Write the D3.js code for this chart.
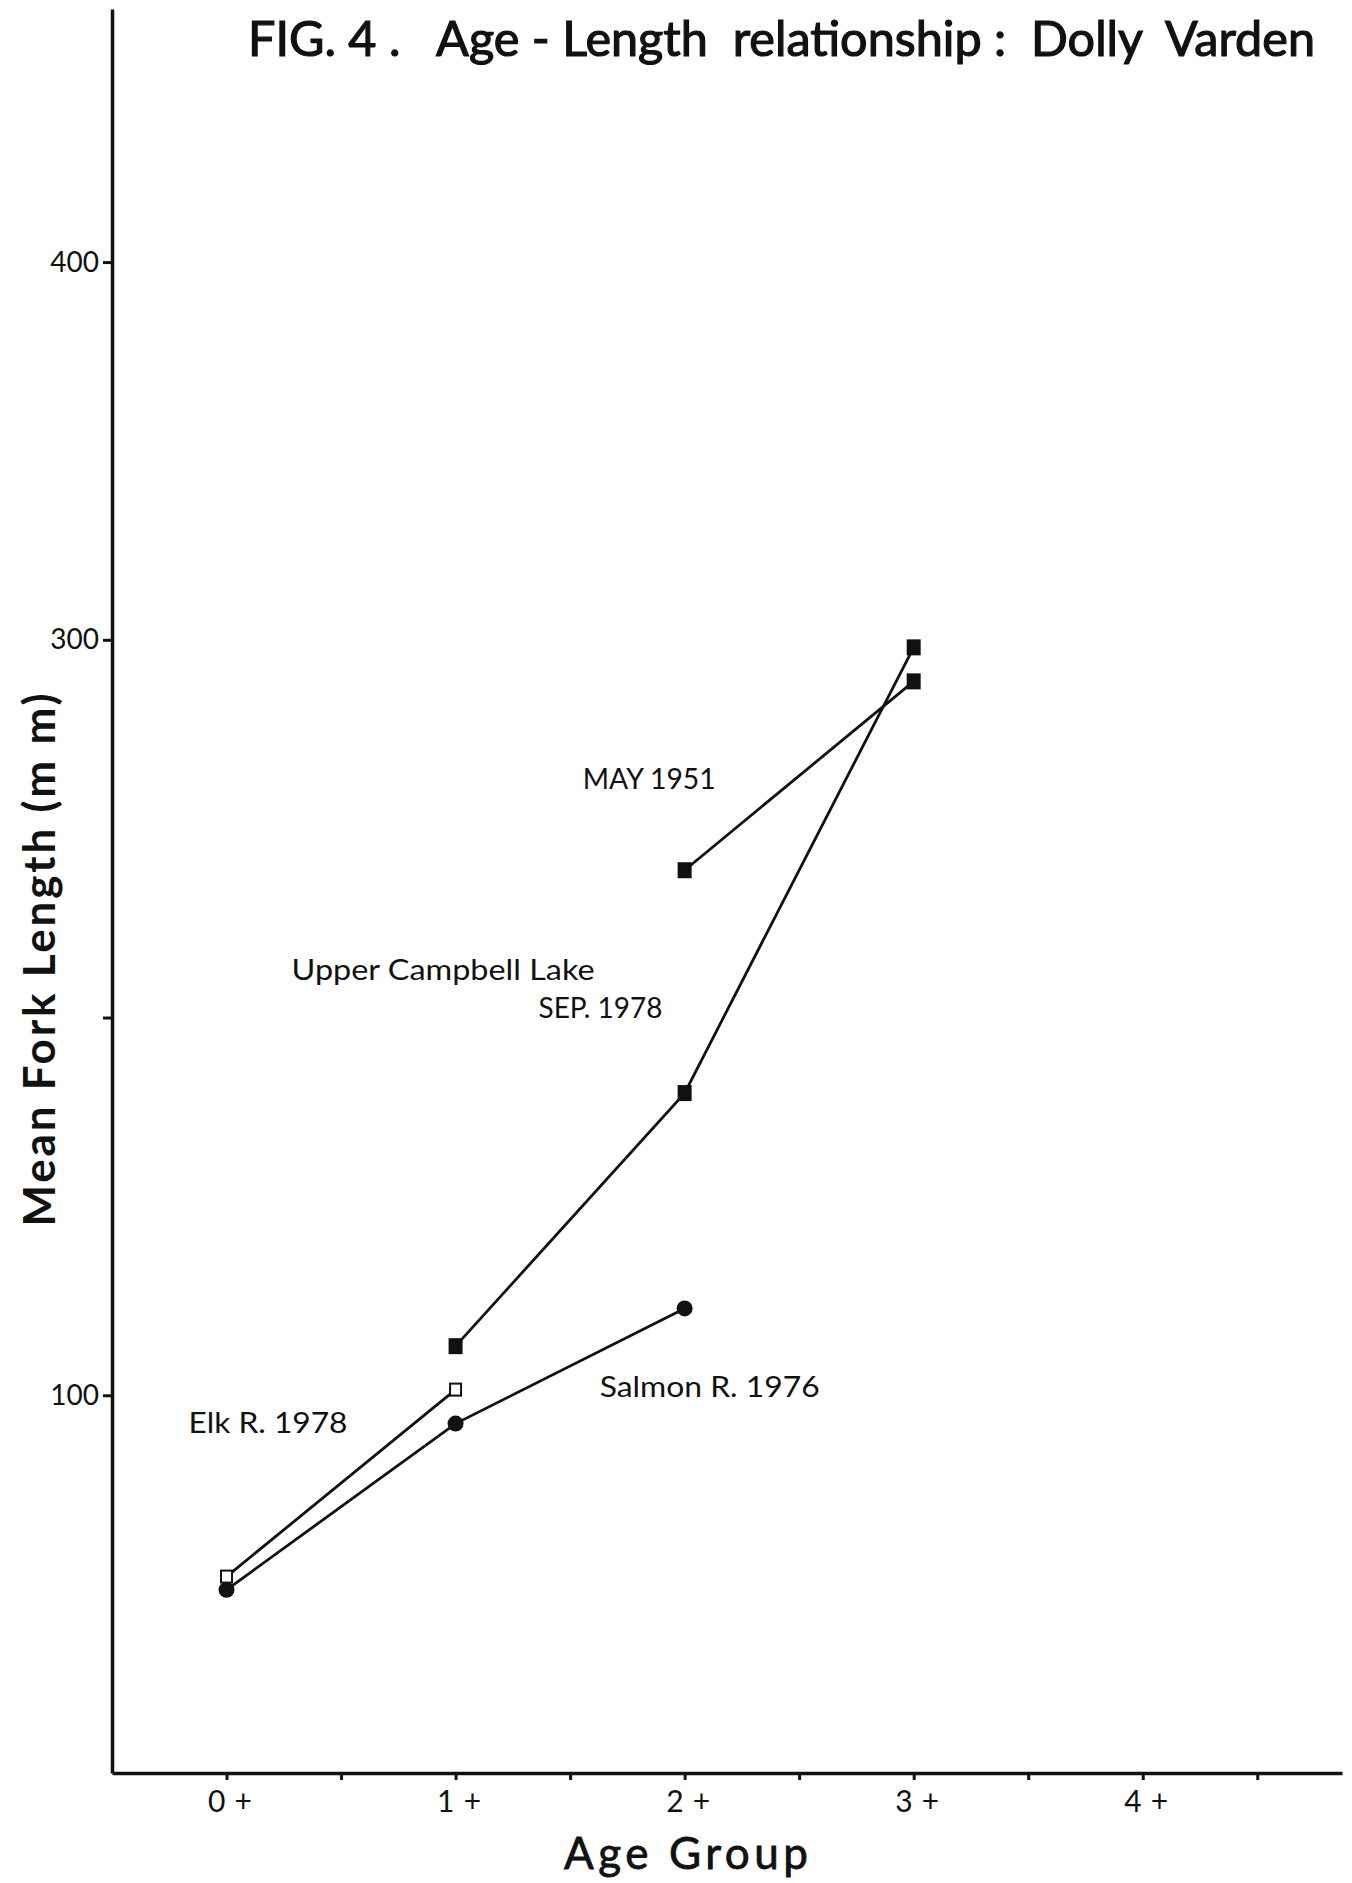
<!DOCTYPE html>
<html>
<head>
<meta charset="utf-8">
<title>FIG. 4. Age-Length relationship: Dolly Varden</title>
<script src="https://cdn.jsdelivr.net/npm/d3@7"></script>
<style>
  html, body { margin: 0; padding: 0; background: #fff; }
  svg { display: block; }
  text { font-family: Lato, "Open Sans", sans-serif; fill: #111; }
</style>
</head>
<body>
<div id="chart"></div>
<script>
// chart data
const ageGroups = ["0+", "1+", "2+", "3+", "4+"];
const yTicks = [100, 200, 300, 400];
const yTickLabels = ["100", "", "300", "400"];

// Upper Campbell Lake, SEP. 1978 (filled squares)
const sepAges = [1, 2, 3];
const sepLengths = [113, 180, 298];

// Upper Campbell Lake, MAY 1951 (filled squares)
const mayAges = [2, 3];
const mayLengths = [239, 289];

// Elk R. 1978 (open squares)
const elkAges = [0, 1];
const elkLengths = [52, 101.5];

// Salmon R. 1976 (filled circles)
const salmonAges = [0, 1, 2];
const salmonLengths = [48.5, 92.5, 123];

// label text + anchor in data units (age, length)
const labelTexts = ["MAY 1951", "Upper Campbell Lake", "SEP. 1978", "Elk R. 1978", "Salmon R. 1976"];
const labelAges = [1.555, 0.284, 1.362, -0.166, 1.629];
const labelLengths = [260.5, 210, 200, 90, 99.5];
const labelWidths = [133, 303, 124, 159, 220];

const width = 1352, height = 1883;
const svg = d3.select("#chart").append("svg")
  .attr("width", width)
  .attr("height", height);

const x = d3.scaleLinear().domain([-0.5, 4.87]).range([112, 1342]);
const y = d3.scaleLinear().domain([0, 467]).range([1773, 9]);

// Axes
const yAxis = d3.axisLeft(y)
  .tickValues(yTicks)
  .tickFormat((d, i) => yTickLabels[i])
  .tickSize(9)
  .tickSizeOuter(0)
  .tickPadding(4);

const gy = svg.append("g")
  .attr("transform", `translate(${x(-0.5)},0)`)
  .call(yAxis);

const xTickValues = d3.range(0, 4.51, 0.5);
const xAxis = d3.axisBottom(x)
  .tickValues(xTickValues)
  .tickFormat(d => Number.isInteger(d) ? ageGroups[d] : "")
  .tickSize(7)
  .tickSizeOuter(0)
  .tickPadding(11);

const gx = svg.append("g")
  .attr("transform", `translate(0,${y(0)})`)
  .call(xAxis);

[gx, gy].forEach(g => {
  g.select(".domain").attr("stroke", "#111").attr("stroke-width", 3.5);
  g.selectAll(".tick line").attr("stroke", "#111").attr("stroke-width", 3);
  g.selectAll(".tick text")
    .style("font-family", "Lato, 'Open Sans', sans-serif")
    .style("font-size", "28px")
    .attr("fill", "#111");
});
gx.selectAll(".tick text")
  .style("font-size", "30px")
  .attr("dx", 3)
  .attr("textLength", d => Number.isInteger(d) ? 44 : null)
  .attr("lengthAdjust", "spacing");

// Lines
const line = d3.line()
  .x(d => x(d[0]))
  .y(d => y(d[1]));

const series = [
  { ages: sepAges, lengths: sepLengths, marker: "square" },
  { ages: mayAges, lengths: mayLengths, marker: "square" },
  { ages: elkAges, lengths: elkLengths, marker: "open" },
  { ages: salmonAges, lengths: salmonLengths, marker: "circle" }
];

series.forEach(s => {
  const pts = s.ages.map((a, i) => [a, s.lengths[i]]);
  svg.append("path")
    .datum(pts)
    .attr("fill", "none")
    .attr("stroke", "#111")
    .attr("stroke-width", 2.8)
    .attr("d", line);

  const g = svg.append("g");
  if (s.marker === "circle") {
    g.selectAll("circle").data(pts).join("circle")
      .attr("cx", d => x(d[0]))
      .attr("cy", d => y(d[1]))
      .attr("r", 8)
      .attr("fill", "#111");
  } else if (s.marker === "square") {
    g.selectAll("rect").data(pts).join("rect")
      .attr("x", d => x(d[0]) - 7)
      .attr("y", d => y(d[1]) - 8)
      .attr("width", 14)
      .attr("height", 16)
      .attr("fill", "#111");
  } else {
    g.selectAll("rect").data(pts).join("rect")
      .attr("x", d => x(d[0]) - 5.5)
      .attr("y", d => y(d[1]) - 6)
      .attr("width", 11)
      .attr("height", 12)
      .attr("fill", "#fff")
      .attr("stroke", "#111")
      .attr("stroke-width", 2);
  }
});

// Series labels
labelTexts.forEach((t, i) => {
  svg.append("text")
    .attr("x", x(labelAges[i]))
    .attr("y", y(labelLengths[i]))
    .attr("textLength", labelWidths[i])
    .attr("lengthAdjust", "spacingAndGlyphs")
    .style("font-size", "28px")
    .text(t);
});

// Title
svg.append("text")
  .attr("x", 248)
  .attr("y", 56)
  .attr("textLength", 1067)
  .attr("lengthAdjust", "spacingAndGlyphs")
  .style("white-space", "pre")
  .style("font-size", "48px")
  .style("font-weight", 400)
  .attr("stroke", "#111")
  .attr("stroke-width", 1.2)
  .text("FIG. 4 .   Age - Length  relationship :  Dolly  Varden");

// Axis titles
svg.append("text")
  .attr("transform", "translate(55,960) rotate(-90)")
  .attr("text-anchor", "middle")
  .attr("textLength", 533)
  .attr("lengthAdjust", "spacing")
  .style("white-space", "pre")
  .style("font-size", "44px")
  .style("font-weight", 700)
  .text("Mean Fork Length (m m)");

svg.append("text")
  .attr("x", 686)
  .attr("y", 1869)
  .attr("text-anchor", "middle")
  .attr("textLength", 244)
  .attr("lengthAdjust", "spacing")
  .style("font-size", "44px")
  .style("font-weight", 400)
  .attr("stroke", "#111")
  .attr("stroke-width", 0.8)
  .text("Age Group");
</script>
</body>
</html>
